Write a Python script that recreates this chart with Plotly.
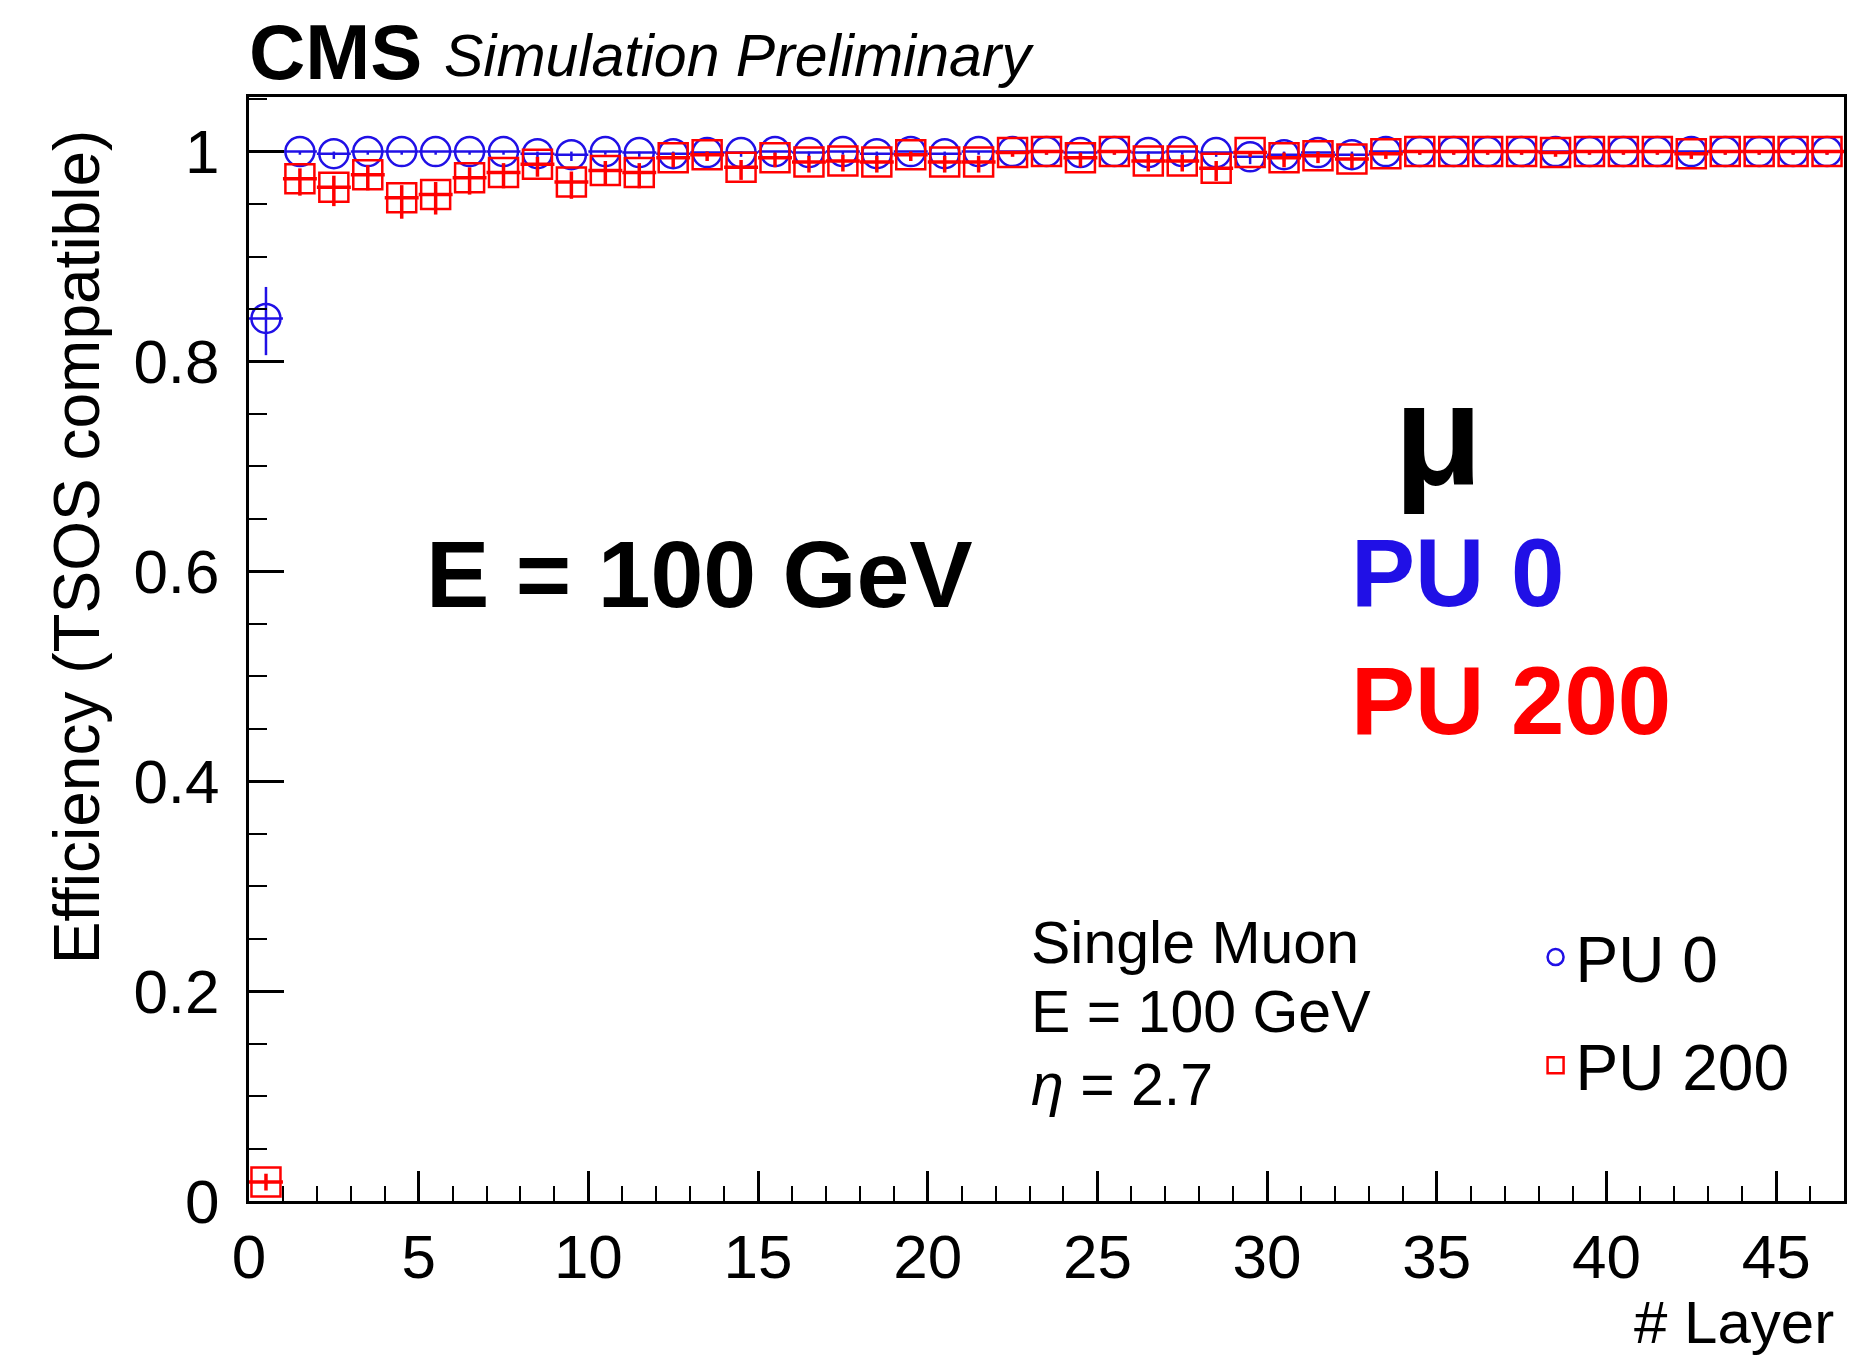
import plotly.graph_objects as go

# ---------------- data ----------------
layer = [0.5, 1.5, 2.5, 3.5, 4.5, 5.5, 6.5, 7.5, 8.5, 9.5,
         10.5, 11.5, 12.5, 13.5, 14.5, 15.5, 16.5, 17.5, 18.5, 19.5,
         20.5, 21.5, 22.5, 23.5, 24.5, 25.5, 26.5, 27.5, 28.5, 29.5,
         30.5, 31.5, 32.5, 33.5, 34.5, 35.5, 36.5, 37.5, 38.5, 39.5,
         40.5, 41.5, 42.5, 43.5, 44.5, 45.5, 46.5]
half_bin = [0.5] * 47

pu0_eff = [0.841, 1.000, 0.998, 1.000, 1.000, 1.000, 1.000, 1.000, 0.998, 0.997,
           1.000, 0.999, 0.998, 0.999, 0.999, 1.000, 0.999, 1.000, 0.998, 1.000,
           0.998, 1.000, 1.000, 1.000, 0.999, 1.000, 0.999, 1.000, 0.999, 0.995,
           0.997, 0.999, 0.997, 1.000, 1.000, 1.000, 1.000, 1.000, 1.000, 1.000,
           1.000, 1.000, 1.000, 1.000, 1.000, 1.000, 1.000]
pu0_err_hi = [0.030, 0.000, 0.002, 0.000, 0.000, 0.000, 0.000, 0.000, 0.002, 0.003,
              0.000, 0.001, 0.002, 0.001, 0.001, 0.000, 0.001, 0.000, 0.002, 0.000,
              0.002, 0.000, 0.000, 0.000, 0.001, 0.000, 0.001, 0.000, 0.001, 0.004,
              0.003, 0.001, 0.003, 0.000, 0.000, 0.000, 0.000, 0.000, 0.000, 0.000,
              0.000, 0.000, 0.000, 0.000, 0.000, 0.000, 0.000]
pu0_err_lo = [0.035, 0.003, 0.005, 0.003, 0.003, 0.003, 0.003, 0.003, 0.005, 0.006,
              0.003, 0.004, 0.005, 0.004, 0.004, 0.003, 0.004, 0.003, 0.005, 0.003,
              0.005, 0.003, 0.003, 0.003, 0.004, 0.003, 0.004, 0.003, 0.004, 0.007,
              0.006, 0.004, 0.006, 0.003, 0.003, 0.003, 0.003, 0.003, 0.003, 0.003,
              0.003, 0.003, 0.003, 0.003, 0.003, 0.003, 0.003]

pu200_eff = [0.018, 0.974, 0.966, 0.978, 0.956, 0.959, 0.975, 0.980, 0.988, 0.971,
             0.982, 0.980, 0.994, 0.997, 0.985, 0.994, 0.990, 0.991, 0.990, 0.997,
             0.990, 0.990, 0.999, 1.000, 0.994, 1.000, 0.991, 0.991, 0.984, 0.999,
             0.994, 0.996, 0.993, 0.998, 1.000, 1.000, 1.000, 1.000, 0.999, 1.000,
             1.000, 1.000, 0.998, 1.000, 1.000, 1.000, 1.000]
pu200_err_hi = [0.008, 0.010, 0.011, 0.009, 0.012, 0.012, 0.010, 0.009, 0.007, 0.010,
                0.009, 0.009, 0.005, 0.003, 0.007, 0.005, 0.006, 0.006, 0.006, 0.003,
                0.006, 0.006, 0.001, 0.000, 0.005, 0.000, 0.006, 0.006, 0.007, 0.001,
                0.005, 0.004, 0.005, 0.002, 0.000, 0.000, 0.000, 0.000, 0.001, 0.000,
                0.000, 0.000, 0.002, 0.000, 0.000, 0.000, 0.000]
pu200_err_lo = [0.008, 0.016, 0.018, 0.015, 0.020, 0.019, 0.016, 0.015, 0.012, 0.016,
                0.014, 0.015, 0.009, 0.006, 0.012, 0.009, 0.010, 0.010, 0.010, 0.006,
                0.010, 0.010, 0.004, 0.003, 0.009, 0.003, 0.010, 0.010, 0.012, 0.004,
                0.009, 0.007, 0.009, 0.005, 0.003, 0.003, 0.003, 0.003, 0.004, 0.003,
                0.003, 0.003, 0.005, 0.003, 0.003, 0.003, 0.003]

x_ticks = [0, 5, 10, 15, 20, 25, 30, 35, 40, 45]
y_ticks = [0, 0.2, 0.4, 0.6, 0.8, 1.0]
y_tick_text = ["0", "0.2", "0.4", "0.6", "0.8", "1"]

# ---------------- styling ----------------
FONT = "Liberation Sans, Arial, Helvetica, sans-serif"
BLUE = "#2010e6"
RED = "#ff0000"
W, H = 1856, 1359
ML, MR, MT, MB = 249, 9, 97, 158
PW, PH = W - ML - MR, H - MT - MB


def px(x):
    return (x - ML) / PW


def py(y):
    return (H - MB - y) / PH


fig = go.Figure()

fig.add_trace(go.Scatter(
    x=layer, y=pu0_eff, mode="markers", name="PU 0",
    legendgroup="a",
    marker=dict(symbol="circle-open", size=29, color=BLUE, line=dict(width=2.5, color=BLUE)),
    error_x=dict(type="data", array=half_bin, symmetric=True, color=BLUE, thickness=2.5, width=0),
    error_y=dict(type="data", array=pu0_err_hi, arrayminus=pu0_err_lo, symmetric=False,
                 color=BLUE, thickness=2.5, width=0),
))
fig.add_trace(go.Scatter(
    x=layer, y=pu200_eff, mode="markers", name="PU 200",
    legendgroup="b",
    marker=dict(symbol="square-open", size=29, color=RED, line=dict(width=2.5, color=RED)),
    error_x=dict(type="data", array=half_bin, symmetric=True, color=RED, thickness=3.5, width=0),
    error_y=dict(type="data", array=pu200_err_hi, arrayminus=pu200_err_lo, symmetric=False,
                 color=RED, thickness=3.5, width=0),
))

axis_common = dict(
    showgrid=False, zeroline=False, showline=True, mirror=True,
    linecolor="black", linewidth=3,
    ticks="inside", tickcolor="black", tickwidth=2.5,
    tickfont=dict(family=FONT, size=62, color="black"),
)

fig.update_xaxes(
    range=[0, 47], tickvals=x_ticks, ticklen=30, ticklabelstandoff=0,
    minor=dict(dtick=1, ticklen=15, tickwidth=2, tickcolor="black", ticks="inside", showgrid=False),
    **axis_common,
)
fig.update_yaxes(
    range=[0, 1.052], tickvals=y_ticks, ticktext=y_tick_text, ticklen=35, ticklabelstandoff=14,
    minor=dict(dtick=0.05, tick0=0, ticklen=18, tickwidth=2, tickcolor="black", ticks="inside", showgrid=False),
    **axis_common,
)

ann = []
# axis titles
ann.append(dict(text="Efficiency (TSOS compatible)", textangle=-90,
                x=px(77), y=py(547), xref="paper", yref="paper",
                xanchor="center", yanchor="middle", showarrow=False,
                font=dict(family=FONT, size=64, color="black")))
ann.append(dict(text="# Layer", x=px(1838), y=py(1322), xref="paper", yref="paper",
                xanchor="right", yanchor="middle", showarrow=False, borderpad=0,
                font=dict(family=FONT, size=60, color="black")))
# CMS header
ann.append(dict(text="<b>CMS</b>", x=px(247), y=py(52), xref="paper", yref="paper",
                xanchor="left", yanchor="middle", showarrow=False,
                font=dict(family=FONT, size=78, color="black")))
ann.append(dict(text="<i>Simulation Preliminary</i>", x=px(442), y=py(56), xref="paper", yref="paper",
                xanchor="left", yanchor="middle", showarrow=False,
                font=dict(family=FONT, size=59, color="black")))
# big labels
ann.append(dict(text="<b>E = 100 GeV</b>", x=px(424), y=py(574), xref="paper", yref="paper",
                xanchor="left", yanchor="middle", showarrow=False,
                font=dict(family=FONT, size=95, color="black")))
ann.append(dict(text="<b>μ</b>", x=px(1441), y=py(435), xref="paper", yref="paper",
                xanchor="center", yanchor="middle", showarrow=False,
                font=dict(family=FONT, size=145, color="black")))
ann.append(dict(text="<b>PU 0</b>", x=px(1351), y=py(572), xref="paper", yref="paper",
                xanchor="left", yanchor="middle", showarrow=False,
                font=dict(family=FONT, size=96, color=BLUE)))
ann.append(dict(text="<b>PU 200</b>", x=px(1351), y=py(700), xref="paper", yref="paper",
                xanchor="left", yanchor="middle", showarrow=False,
                font=dict(family=FONT, size=96, color=RED)))
# info text
for txt, yy in [("Single Muon", 943), ("E = 100 GeV", 1012), ("<i>η</i> = 2.7", 1085)]:
    ann.append(dict(text=txt, x=px(1030), y=py(yy), xref="paper", yref="paper",
                    xanchor="left", yanchor="middle", showarrow=False,
                    font=dict(family=FONT, size=59, color="black")))

fig.update_layout(
    width=W, height=H, autosize=False,
    margin=dict(l=ML, r=MR, t=MT, b=MB, pad=0),
    paper_bgcolor="white", plot_bgcolor="white",
    font=dict(family=FONT, color="black"),
    annotations=ann,
    showlegend=True,
    legend=dict(x=px(1538), y=py(909), xanchor="left", yanchor="top",
                bgcolor="rgba(0,0,0,0)", borderwidth=0,
                font=dict(family=FONT, size=64, color="black"),
                tracegroupgap=22, traceorder="grouped", itemwidth=30),
)

fig.write_html("out.html")
